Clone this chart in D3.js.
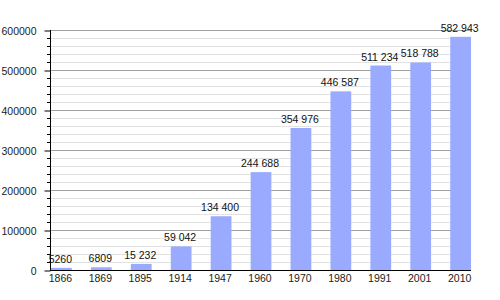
<!DOCTYPE html>
<html><head><meta charset="utf-8">
<script src="https://cdn.jsdelivr.net/npm/d3@7"></script>
<style>body{margin:0;background:#fff}svg{display:block}text{font-family:"Liberation Sans",Arial,sans-serif}</style>
</head><body>
<svg id="c" width="500" height="300"></svg>
<script>
const years = ["1866","1869","1895","1914","1947","1960","1970","1980","1991","2001","2010"];
const population = [5260,6809,15232,59042,134400,244688,354976,446587,511234,518788,582943];
const valueLabels = ["5260","6809","15 232","59 042","134 400","244 688","354 976","446 587","511 234","518 788","582 943"];
const yTicks = [0,100000,200000,300000,400000,500000,600000];

(function(){
const svg = d3.select("#c");
const fs = 10.5;
const mLeft = 50, mRight = 471, mTop = 30, mBottom = 270;
const y = d3.scaleLinear().domain([0,600000]).range([mBottom, mTop]);
const x = d3.scaleBand().domain(years).range([51, mRight]).paddingInner(0.48).paddingOuter(0);

// minor grid
const minor = d3.range(0, 600001, 20000).filter(v => v % 100000 !== 0);
svg.append("g").selectAll("line").data(minor).join("line")
  .attr("x1", mLeft).attr("x2", mRight).attr("y1", d => y(d)+0.5).attr("y2", d => y(d)+0.5)
  .attr("stroke", "#e2e2e2").attr("stroke-width", 1);
svg.append("g").selectAll("line").data(minor).join("line")
  .attr("x1", mLeft-3).attr("x2", mLeft).attr("y1", d => y(d)+0.5).attr("y2", d => y(d)+0.5)
  .attr("stroke", "#000").attr("stroke-width", 1);
// major grid
svg.append("g").selectAll("line").data(yTicks.filter(v => v>0)).join("line")
  .attr("x1", mLeft).attr("x2", mRight).attr("y1", d => y(d)+0.5).attr("y2", d => y(d)+0.5)
  .attr("stroke", "#a0a0a0").attr("stroke-width", 1);

// y axis
const yAxis = d3.axisLeft(y).tickValues(yTicks).tickSize(6).tickPadding(8).tickFormat(d => String(d));
const gy = svg.append("g").attr("transform", `translate(${mLeft+0.5},0.5)`).call(yAxis);
gy.select(".domain").remove();
gy.selectAll("text").attr("font-size", fs).attr("fill", "#222").attr("dy", "0.4em").attr("font-family", "Liberation Sans, Arial, sans-serif");
svg.append("line").attr("x1", mLeft+0.5).attr("x2", mLeft+0.5).attr("y1", mTop).attr("y2", mBottom).attr("stroke", "#000");

// bars
svg.append("g").selectAll("rect").data(population).join("rect")
  .attr("x", (d,i) => x(years[i])).attr("width", x.bandwidth())
  .attr("y", d => y(d)).attr("height", d => mBottom - y(d))
  .attr("fill", "#99aaff");

// value labels
svg.append("g").selectAll("text").data(population).join("text")
  .attr("x", (d,i) => x(years[i]) + x.bandwidth()/2 - 1)
  .attr("y", d => y(d) - 5)
  .attr("text-anchor", "middle").attr("font-size", fs).attr("fill", "#111")
  .text((d,i) => valueLabels[i]);

// x axis
const xAxis = d3.axisBottom(x).tickSize(0).tickPadding(5);
const gx = svg.append("g").attr("transform", `translate(-1,${mBottom})`).call(xAxis);
gx.select(".domain").remove();
gx.selectAll("text").attr("font-size", fs).attr("fill", "#222").attr("font-family", "Liberation Sans, Arial, sans-serif");
svg.append("line").attr("x1", mLeft).attr("x2", mRight).attr("y1", mBottom+0.5).attr("y2", mBottom+0.5).attr("stroke", "#000");
})();
</script>
</body></html>
